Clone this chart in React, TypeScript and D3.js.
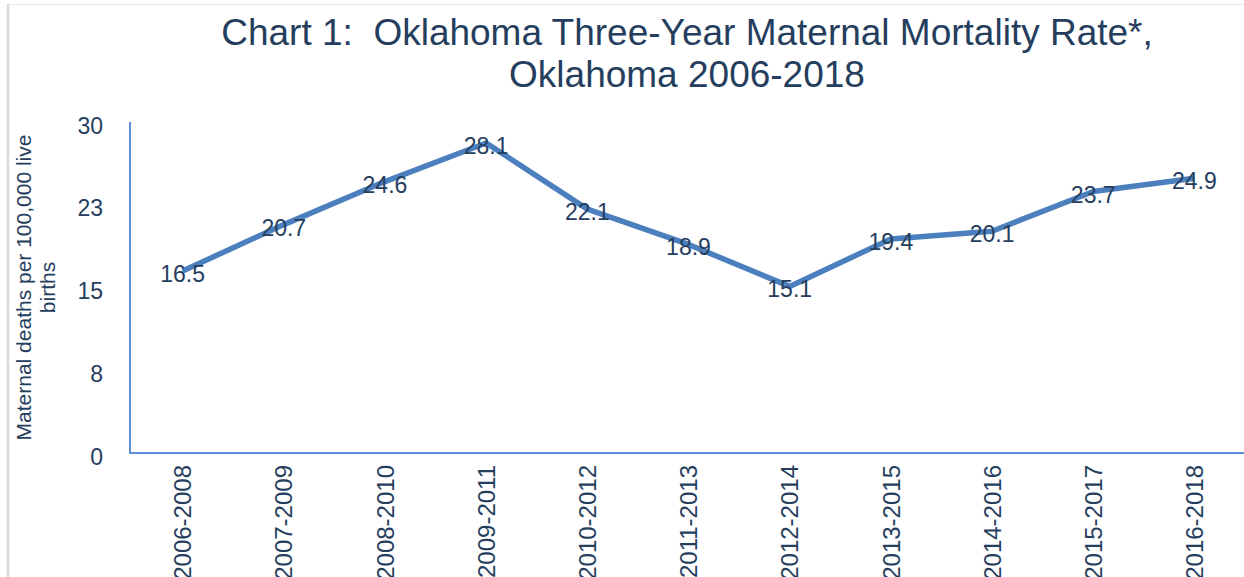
import * as d3 from 'd3';

const periods = [
  '2006-2008', '2007-2009', '2008-2010', '2009-2011', '2010-2012', '2011-2013',
  '2012-2014', '2013-2015', '2014-2016', '2015-2017', '2016-2018',
];
const rates = [16.5, 20.7, 24.6, 28.1, 22.1, 18.9, 15.1, 19.4, 20.1, 23.7, 24.9];
const yTicks = [0, 7.5, 15, 22.5, 30];
const yTickLabels = ['0', '8', '15', '23', '30'];
const titleLines = ['Chart 1:  Oklahoma Three-Year Maternal Mortality Rate*,', 'Oklahoma 2006-2018'];
const yTitleLines = ['Maternal deaths per 100,000 live', 'births'];

const W = 1244;
const H = 577;
const FONT = '"Liberation Sans", Arial, Helvetica, sans-serif';
const TEXT = '#253e5e';
const LINE = '#4c7fbd';
const AXIS = '#5d90d8';

export default function App() {
  const x = d3.scaleBand<string>().domain(periods).range([132, 1245]);
  const y = d3.scaleLinear().domain([0, 30]).range([453, 122]);
  const cx = (p: string) => (x(p) ?? 0) + x.bandwidth() / 2;

  const line = d3
    .line<number>()
    .x((_, i) => cx(periods[i]))
    .y((d) => y(d));

  const plotLeft = 130;
  const yMid = (y(0) + y(30)) / 2;

  return (
    <div style={{ position: 'absolute', left: 0, top: 0 }}>
      <svg width={W} height={H} style={{ display: 'block' }} fontFamily={FONT}>
        <rect width={W} height={H} fill="#fff" />
        {/* frame */}
        <line x1={8} x2={W} y1={4.5} y2={4.5} stroke="#e8e8e8" strokeWidth={1} />
        <line x1={8} x2={8} y1={4} y2={H} stroke="#d9d9d9" strokeWidth={2.5} />

        {/* title */}
        {titleLines.map((t, i) => (
          <text
            key={t}
            x={687}
            y={45 + i * 42}
            textAnchor="middle"
            fontSize={37}
            fill={TEXT}
            style={{ whiteSpace: 'pre' }}
          >
            {t}
          </text>
        ))}

        {/* y axis title */}
        <g transform={`translate(0,${yMid}) rotate(-90)`}>
          {yTitleLines.map((t, i) => (
            <text key={t} x={0} y={31 + i * 24} textAnchor="middle" fontSize={21} fill={TEXT}>
              {t}
            </text>
          ))}
        </g>

        {/* y ticks */}
        {yTicks.map((v, i) => (
          <text key={v} x={103} y={y(v) + 11.5} textAnchor="end" fontSize={23} fill={TEXT}>
            {yTickLabels[i]}
          </text>
        ))}

        {/* axes */}
        <line x1={plotLeft} x2={plotLeft} y1={y(30)} y2={y(0)} stroke={AXIS} strokeWidth={2} />
        <line x1={plotLeft - 1} x2={W} y1={y(0)} y2={y(0)} stroke={AXIS} strokeWidth={2} />

        {/* x labels */}
        {periods.map((p) => (
          <text
            key={p}
            transform={`translate(${cx(p)},465) rotate(-90)`}
            dy="0.36em"
            textAnchor="end"
            fontSize={24}
            fill={TEXT}
          >
            {p}
          </text>
        ))}

        {/* series */}
        <path d={line(rates) ?? ''} fill="none" stroke={LINE} strokeWidth={5.5} strokeLinejoin="round" />

        {/* data labels */}
        {rates.map((v, i) => (
          <text
            key={periods[i]}
            x={cx(periods[i])}
            y={y(v) + 11}
            textAnchor="middle"
            fontSize={23}
            fill={TEXT}
          >
            {v.toFixed(1)}
          </text>
        ))}
      </svg>
    </div>
  );
}
